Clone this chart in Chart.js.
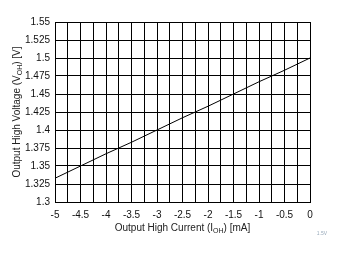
<!DOCTYPE html>
<html>
<head>
<meta charset="utf-8">
<script src="https://cdn.jsdelivr.net/npm/chart.js@4"></script>
<style>
  body { margin: 0; background: #fff; }
  canvas { display: block; }
</style>
</head>
<body>
<canvas id="vohChart" width="343" height="254"></canvas>
<script>
// output high current (mA) and output high voltage (V)
var currentMA = [-5, -4.5, -4, -3.5, -3, -2.5, -2, -1.5, -1, -0.5, 0];
var voltageV = [1.333, 1.35, 1.367, 1.383, 1.4, 1.417, 1.433, 1.45, 1.467, 1.483, 1.5];

var xTitle = ['Output High Current (I', 'OH', ') [mA]'];
var yTitle = ['Output High Voltage (V', 'OH', ') [V]'];
var figId = '1.5V';

// draws an axis title with a subscript part in the middle
function drawSubTitle(ctx, parts, cx, cy, rotate) {
    var big = '10px "Liberation Sans", Arial, sans-serif';
    var small = '7px "Liberation Sans", Arial, sans-serif';
    ctx.save();
    ctx.translate(cx, cy);
    if (rotate) ctx.rotate(-Math.PI / 2);
    ctx.fillStyle = '#222';
    ctx.textBaseline = 'middle';
    ctx.textAlign = 'left';
    ctx.font = big;
    var w0 = ctx.measureText(parts[0]).width;
    var w2 = ctx.measureText(parts[2]).width;
    ctx.font = small;
    var w1 = ctx.measureText(parts[1]).width;
    var x = -(w0 + w1 + w2) / 2;
    ctx.font = big;
    ctx.fillText(parts[0], x, 0);
    ctx.font = small;
    ctx.fillText(parts[1], x + w0, 3);
    ctx.font = big;
    ctx.fillText(parts[2], x + w0 + w1, 0);
    ctx.restore();
}

var titlesPlugin = {
    id: 'titles',
    afterDraw: function (chart) {
        var ctx = chart.ctx;
        var a = chart.chartArea;
        drawSubTitle(ctx, xTitle, (a.left + a.right) / 2, 228, false);
        drawSubTitle(ctx, yTitle, 17, (a.top + a.bottom) / 2, true);
        ctx.save();
        ctx.font = '5px "Liberation Sans", Arial, sans-serif';
        ctx.fillStyle = '#9ab';
        ctx.textAlign = 'center';
        ctx.fillText(figId, 322, 235);
        ctx.restore();
    }
};

var ctx = document.getElementById('vohChart').getContext('2d');
var vohChart = new Chart(ctx, {
    type: 'scatter',
    data: {
        datasets: [{
            data: currentMA.map(function (c, i) { return { x: c, y: voltageV[i] }; }),
            showLine: true,
            borderColor: '#000',
            borderWidth: 1,
            pointRadius: 0,
            fill: false
        }]
    },
    options: {
        responsive: false,
        animation: false,
        layout: { padding: { top: 22, right: 33, left: 0, bottom: 0 } },
        plugins: { legend: { display: false }, tooltip: { enabled: false } },
        scales: {
            x: {
                type: 'linear',
                min: -5,
                max: 0,
                afterFit: function (s) { s.height = 52; },
                grid: { color: '#000', lineWidth: 1, drawTicks: false },
                border: { color: '#000', width: 1 },
                ticks: {
                    stepSize: 0.25,
                    autoSkip: false,
                    maxRotation: 0,
                    padding: 7,
                    color: '#111',
                    font: { family: '"Liberation Sans", Arial, sans-serif', size: 10 },
                    callback: function (v) {
                        var r = Math.round(v * 100) / 100;
                        return Math.abs(r * 2 - Math.round(r * 2)) < 1e-6 ? String(r) : '';
                    }
                }
            },
            y: {
                min: 1.3,
                max: 1.55,
                afterFit: function (s) { s.width = 55; },
                grid: { color: '#000', lineWidth: 1, drawTicks: false },
                border: { color: '#000', width: 1 },
                ticks: {
                    stepSize: 0.025,
                    autoSkip: false,
                    padding: 5,
                    color: '#111',
                    font: { family: '"Liberation Sans", Arial, sans-serif', size: 10 },
                    callback: function (v) { return String(Math.round(v * 1000) / 1000); }
                }
            }
        }
    },
    plugins: [titlesPlugin]
});
</script>
</body>
</html>
